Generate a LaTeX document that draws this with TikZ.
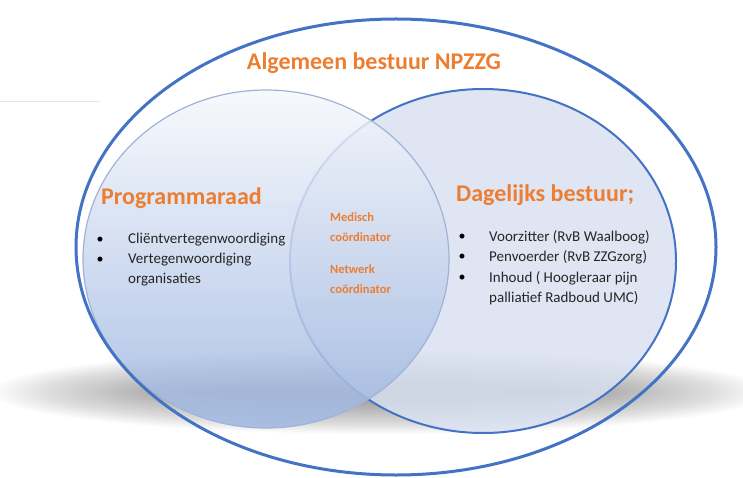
\documentclass[tikz,border=0pt]{standalone}
\usepackage{fontspec}
\setmainfont{Carlito}
\definecolor{npblue}{HTML}{4472C4}
\definecolor{nporange}{HTML}{ED7D31}
\definecolor{nptext}{HTML}{262626}
\definecolor{leftedge}{HTML}{9FB3D8}
\definecolor{rightfill}{HTML}{D9E1F0}
\begin{document}
\begin{tikzpicture}[x=1pt,y=-1pt,
  title/.style={text=nporange,font=\fontsize{24}{28}\selectfont\bfseries,inner sep=0pt},
  head/.style={text=nporange,font=\fontsize{24}{28}\selectfont\bfseries,inner sep=0pt,anchor=west},
  mid/.style={text=nporange,font=\fontsize{12.5}{15}\selectfont\bfseries,inner sep=0pt,anchor=west},
  item/.style={text=nptext,font=\fontsize{15}{18}\selectfont,inner sep=0pt,anchor=west},
  dot/.style={text=black,font=\fontsize{14}{16}\selectfont,inner sep=0pt}]
\useasboundingbox (0,0) rectangle (743,478);
% faint line top left
\draw[black!10,line width=0.6pt] (0,101) -- (100,101);
% soft shadow
\foreach \i in {0,...,29}{
  \fill[black,fill opacity=0.014] (380,392) ellipse [x radius={388pt-\i*7pt},y radius={42pt-\i*1.2pt}];
}
% right circle
\fill[rightfill,fill opacity=0.85] (483,261) ellipse [x radius=193pt,y radius=172pt];
\draw[npblue,line width=2pt] (483,261) ellipse [x radius=193pt,y radius=172pt];
% left circle (on top, translucent)
\shade[top color=white!95!npblue,bottom color=npblue!52,fill opacity=0.85] (266,259) ellipse [x radius=183pt,y radius=169pt];
\draw[leftedge,line width=1.2pt] (266,259) ellipse [x radius=183pt,y radius=169pt];
% outer ellipse
\draw[npblue,line width=3pt] (396,247) ellipse [x radius=320pt,y radius=228pt];
% texts
\node[title] (t) at (374,63) {Algemeen bestuur NPZZG};
\node[head] (pr) at (101,198) {Programmaraad};
\node[dot] (b1) at (100,240) {\textbullet};
\node[item] (l1) at (128,240) {Cliëntvertegenwoordiging};
\node[dot] (b2) at (100,260) {\textbullet};
\node[item] (l2) at (128,260) {Vertegenwoordiging};
\node[item] (l3) at (128,280) {organisaties};
\node[mid] (m1) at (330,217) {Medisch};
\node[mid] (m2) at (330,237) {coördinator};
\node[mid] (m3) at (330,269) {Netwerk};
\node[mid] (m4) at (330,289) {coördinator};
\node[head] (db) at (456,195) {Dagelijks bestuur;};
\node[dot] (r1) at (462,237) {\textbullet};
\node[item] (s1) at (489,237) {Voorzitter (RvB Waalboog)};
\node[dot] (r2) at (462,257) {\textbullet};
\node[item] (s2) at (489,257) {Penvoerder (RvB ZZGzorg)};
\node[dot] (r3) at (462,278) {\textbullet};
\node[item] (s3) at (489,278) {Inhoud ( Hoogleraar pijn};
\node[item] (s4) at (489,298) {palliatief Radboud UMC)};
\end{tikzpicture}
\end{document}
